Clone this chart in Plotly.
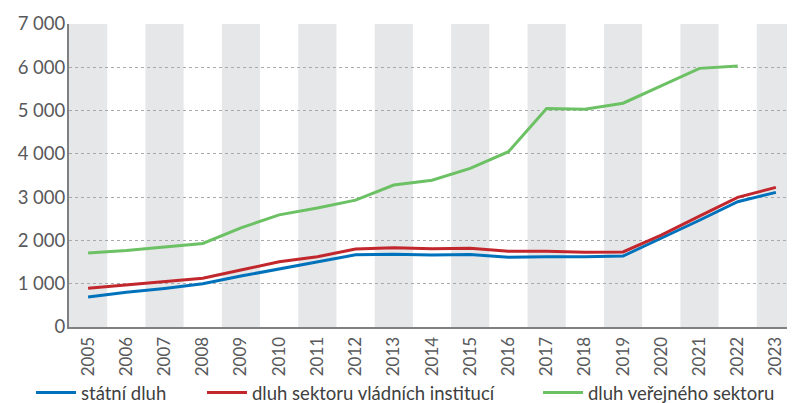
import plotly.graph_objects as go

years = list(range(2005, 2024))
statni_dluh = [691, 802, 892, 999, 1178, 1344, 1499, 1667, 1683, 1663, 1673, 1613, 1624, 1622, 1640, 2050, 2466, 2895, 3111]
dluh_vladnich = [893, 970, 1046, 1125, 1316, 1508, 1624, 1801, 1831, 1805, 1817, 1750, 1748, 1727, 1735, 2125, 2563, 2995, 3226]
dluh_verejneho = [1710, 1765, 1850, 1930, 2290, 2590, 2750, 2930, 3280, 3390, 3665, 4050, 5050, 5030, 5170, 5580, 5975, 6030, None]

names = ["státní dluh", "dluh sektoru vládních institucí", "dluh veřejného sektoru"]
colors = ["#0072bc", "#c1272d", "#6cc164"]
series = [statni_dluh, dluh_vladnich, dluh_verejneho]

font_family = "Lato"
fig = go.Figure()

for i, (nm, col, vals) in enumerate(zip(names, colors, series)):
    fig.add_trace(go.Scatter(
        x=years, y=vals, mode="lines", name=nm,
        line=dict(color=col, width=3),
        legend="legend" if i == 0 else f"legend{i+1}",
    ))

shapes = []
for k, yr in enumerate(years):
    if k % 2 == 0:
        shapes.append(dict(type="rect", xref="x", yref="paper", x0=yr - 0.5, x1=yr + 0.5,
                           y0=0, y1=1, fillcolor="#e6e7e8", line=dict(width=0), layer="below"))

# page body has an 8px margin, so offsets are compensated here
legend_common = dict(orientation="h", yanchor="middle", y=(327 - 393) / 303, xanchor="left",
                     font=dict(family=font_family, size=18.5, color="#404040"),
                     bgcolor="rgba(0,0,0,0)", itemwidth=40)

fig.update_layout(
    width=795, height=403,
    margin=dict(l=61, r=8, t=16, b=84, autoexpand=False),
    paper_bgcolor="white", plot_bgcolor="white",
    separators=", ",
    shapes=shapes,
    showlegend=True,
    legend=dict(**legend_common, x=(31 - 69) / 726),
    legend2=dict(**legend_common, x=(202 - 69) / 726),
    legend3=dict(**legend_common, x=(538 - 69) / 726),
    xaxis=dict(
        range=[2004.5, 2023.5], tickmode="array", tickvals=years,
        ticktext=[str(y) for y in years], tickangle=-90, automargin=False,
        showgrid=False, showline=True, linecolor="#808080", linewidth=2,
        ticks="", tickfont=dict(family=font_family, size=17, color="#58595b"),
        ticklabelstandoff=1, zeroline=False,
    ),
    yaxis=dict(
        range=[0, 7000], tickmode="array", tickvals=list(range(0, 7001, 1000)),
        tickformat=",d", showgrid=True, gridcolor="#a7a9ac", gridwidth=1, automargin=False,
        griddash="3px,3px", showline=True, linecolor="#808080", linewidth=2,
        ticks="", tickfont=dict(family=font_family, size=18.5, color="#58595b"),
        ticklabelstandoff=-2, zeroline=False, layer="above traces",
    ),
)

fig.write_html("out.html")
